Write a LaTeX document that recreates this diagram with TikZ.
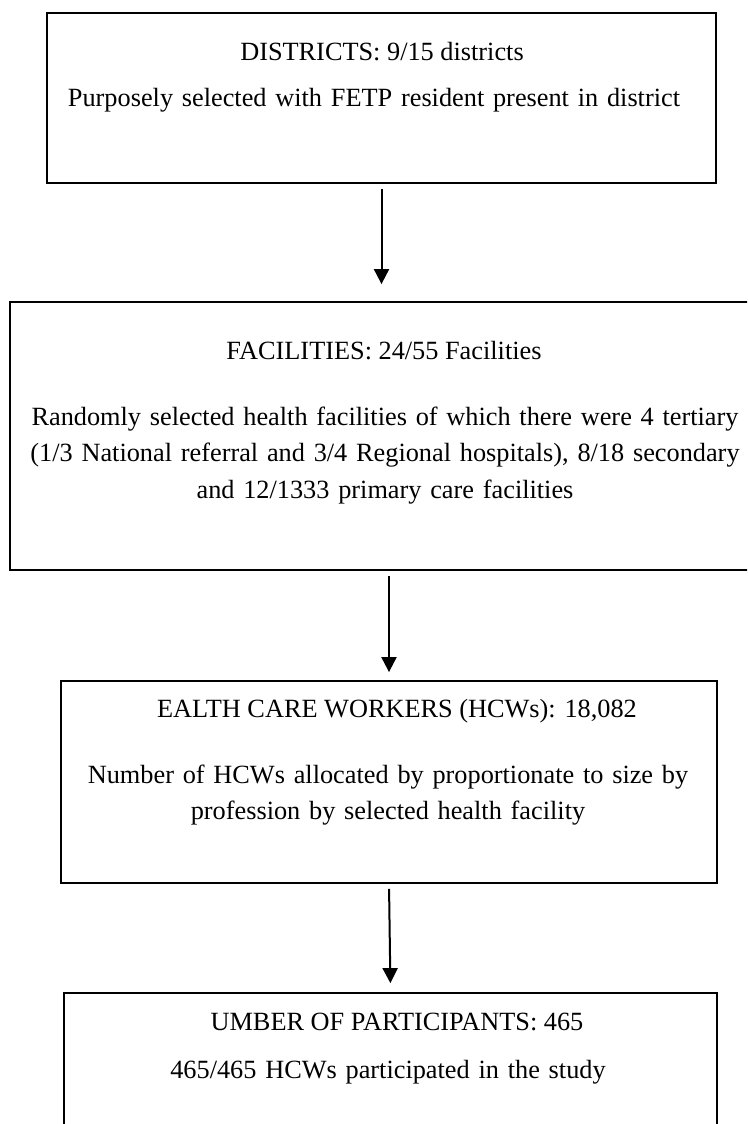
\documentclass[tikz,border=0pt]{standalone}
\usepackage{fontspec}
\setmainfont{Liberation Serif}
\usetikzlibrary{arrows.meta}

\begin{document}
\begin{tikzpicture}[
  x=1pt,y=-1pt,
  font=\fontsize{26.3pt}{36.5pt}\selectfont,
  box/.style={draw,line width=1.8pt,inner sep=0pt},
  title/.style={anchor=base,inner sep=0pt},
  body/.style={anchor=base,inner sep=0pt,align=center,text width=720pt},
  flow/.style={-{Triangle[length=15pt,width=15pt]},line width=2pt}
]
  \useasboundingbox (0,0) rectangle (747,1124);
  \clip (0,0) rectangle (747,1124);

  % the four boxes
  \node[box,minimum width=669pt,minimum height=170pt] (dist) at (381.5,98) {};
  \node[box,minimum width=750pt,minimum height=268pt] (fac) at (385,436) {};
  \node[box,minimum width=656pt,minimum height=202pt] (hcw) at (389,782) {};
  \node[box,minimum width=653pt,minimum height=197pt] (part) at (390.5,1091.5) {};

  % texts
  \node[title] (distT) at (382,60) {DISTRICTS: 9/15 districts};
  \node[body] (distB) at (374,106) {Purposely selected with FETP resident present in district};

  \node[title] (facT) at (384,359) {FACILITIES: 24/55 Facilities};
  \node[body] (facB) at (385,425) {Randomly selected health facilities of which there were 4 tertiary\\
    (1/3 National referral and 3/4 Regional hospitals), 8/18 secondary\\
    and 12/1333 primary care facilities};

  \node[title] (hcwT) at (397,717) {EALTH CARE WORKERS (HCWs): 18,082};
  \node[body] (hcwB) at (388,783) {Number of HCWs allocated by proportionate to size by\\
    profession by selected health facility};

  \node[title] (partT) at (397,1030) {UMBER OF PARTICIPANTS: 465};
  \node[body] (partB) at (388,1078) {465/465 HCWs participated in the study};

  % arrows
  \draw[flow,shorten <=5pt,shorten >=17pt] (dist.south) -- (dist.south |- fac.north);
  \draw[flow,shorten <=5pt,shorten >=8pt] (hcw.north |- fac.south) -- (hcw.north);
  \draw[flow,shorten <=5pt,shorten >=9pt] (hcw.south) -- (part.north);
\end{tikzpicture}
\end{document}
